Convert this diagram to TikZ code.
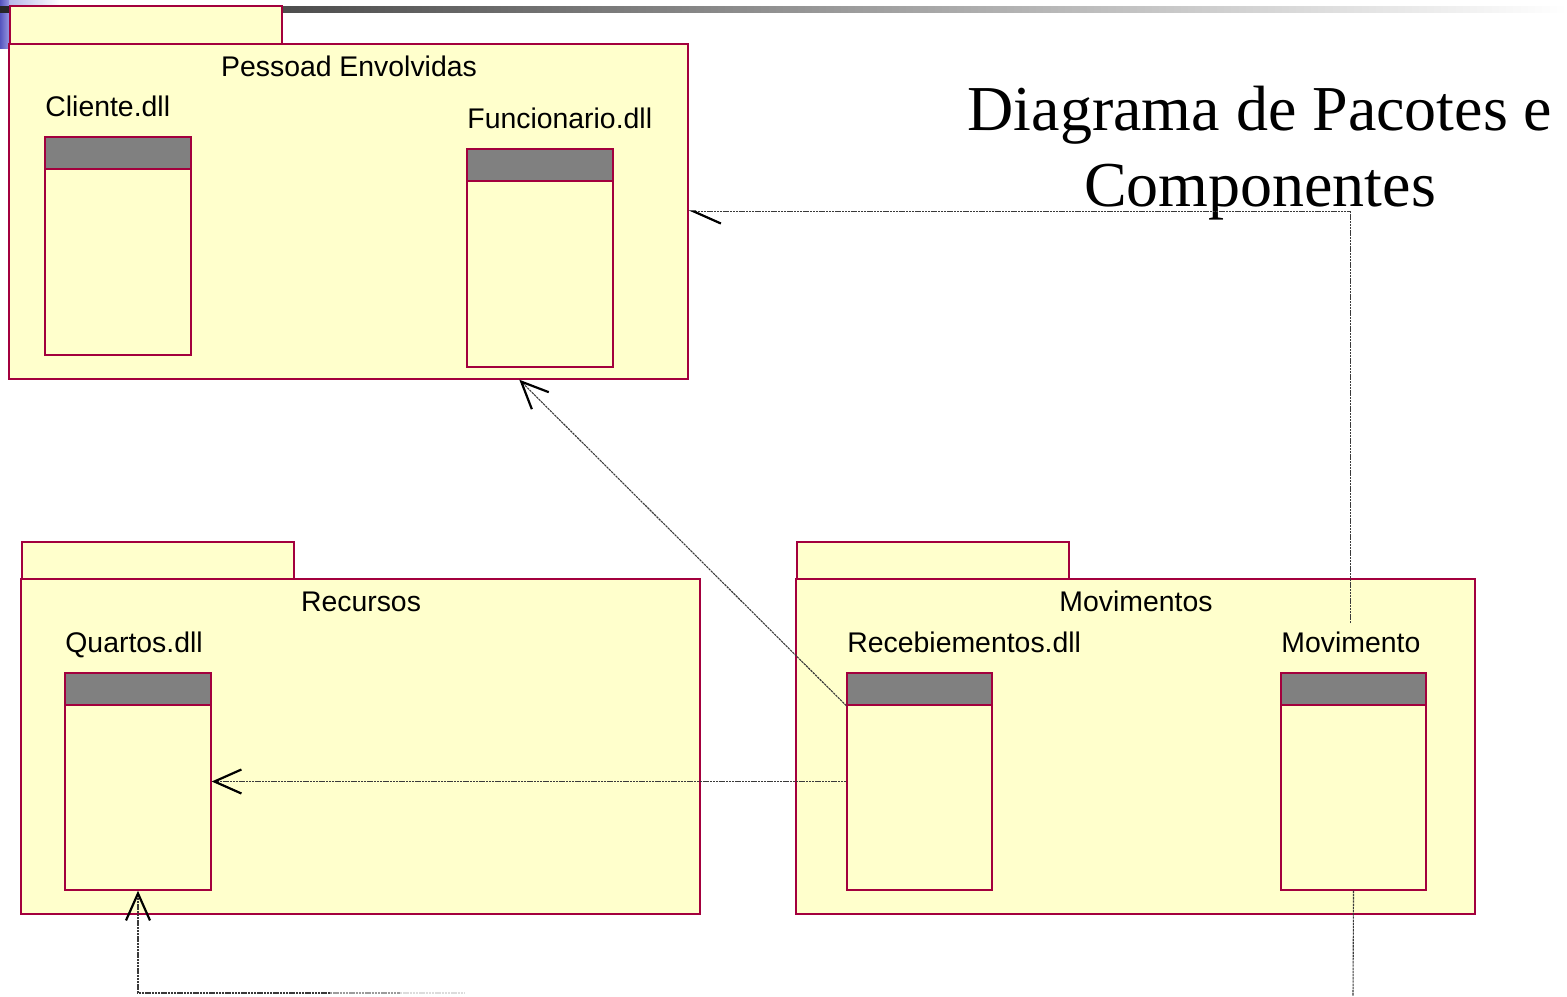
\documentclass[tikz,border=0pt]{standalone}
\usepackage{fontspec}
\setmainfont{Liberation Serif}
\newfontfamily\arialfont{Liberation Sans}
\usetikzlibrary{arrows.meta,fit,calc}
\definecolor{pkgfill}{HTML}{FFFFCC}
\definecolor{pkgline}{HTML}{A3003D}
\definecolor{hdrgray}{HTML}{808080}
\definecolor{conn}{HTML}{3A3A3A}
\definecolor{lav}{RGB}{170,170,230}
\definecolor{blueA}{RGB}{85,85,190}
\definecolor{blueB}{RGB}{150,150,225}
\begin{document}
\begin{tikzpicture}[x=0.5pt,y=-0.5pt,
  pkgbox/.style={draw=pkgline, fill=pkgfill, line width=0.7pt, inner sep=0pt},
  compbox/.style={draw=pkgline, fill=pkgfill, line width=0.7pt, inner sep=0pt},
  comphdr/.style={draw=pkgline, fill=hdrgray, line width=0.7pt, inner sep=0pt},
  lbl/.style={font=\arialfont\fontsize{14.2}{17}\selectfont, inner sep=0pt, anchor=base west},
  ttl/.style={font=\arialfont\fontsize{14.2}{17}\selectfont, inner sep=0pt, anchor=base},
  bigttl/.style={font=\fontsize{32}{38}\selectfont, inner sep=0pt, anchor=base},
  dep/.style={draw=conn, line width=0.55pt, dash pattern=on 1.2pt off 0.4pt},
  opentip/.style={-{Straight Barb[length=13.5pt,width=12pt,line width=1.1pt,color=black]}},
  halftip/.style={-{Straight Barb[harpoon,length=13.5pt,width=12pt,line width=1.1pt,color=black]}}]
\useasboundingbox (0,0) rectangle (1567,996);
% slide decoration
\shade[left color=lav, right color=white] (0,0) rectangle (60,5);
\shade[left color=blueA, right color=blueB] (0,0) rectangle (9,48);
\shade[left color=black!85, right color=white] (0,6) rectangle (1567,12);

% package 1
\node[pkgbox, fit={(10,6) (282,44)}] (p1tab) {};
\node[pkgbox, fit={(9,44) (688,379)}] (p1) {};
\node[ttl] (p1t) at (349,76) {Pessoad Envolvidas};
% package 2
\node[pkgbox, fit={(22,542) (294,579)}] (p2tab) {};
\node[pkgbox, fit={(21,579) (700,914)}] (p2) {};
\node[ttl] (p2t) at (361,611) {Recursos};
% package 3
\node[pkgbox, fit={(797,542) (1069,579)}] (p3tab) {};
\node[pkgbox, fit={(796,579) (1475,914)}] (p3) {};
\node[ttl] (p3t) at (1136,611) {Movimentos};

% components
\node[compbox, fit={(45,137) (191,355)}] (cl) {};
\node[comphdr, fit={(45,137) (191,169)}] (clh) {};
\node[lbl] (cll) at (45,116) {Cliente.dll};

\node[compbox, fit={(467,149) (613,367)}] (fn) {};
\node[comphdr, fit={(467,149) (613,181)}] (fnh) {};
\node[lbl] (fnl) at (467,128) {Funcionario.dll};

\node[compbox, fit={(65,673) (211,890)}] (qd) {};
\node[comphdr, fit={(65,673) (211,705)}] (qdh) {};
\node[lbl] (qdl) at (65,652) {Quartos.dll};

\node[compbox, fit={(847,673) (992,890)}] (rc) {};
\node[comphdr, fit={(847,673) (992,705)}] (rch) {};
\node[lbl] (rcl) at (847,652) {Recebiementos.dll};

\node[compbox, fit={(1281,673) (1426,890)}] (mv) {};
\node[comphdr, fit={(1281,673) (1426,705)}] (mvh) {};
\node[lbl] (mvl) at (1281,652) {Movimento};

% title
\node[bigttl] (title1) at (1260,130) {Diagrama de Pacotes e};
\node[bigttl] (title2) at (1260,206) {Componentes};

% connectors
\draw[dep, halftip] ([yshift=4pt]mvl.north) |- (p1.east);
\draw[dep, opentip] (rch.south west) -- ($(p1.south west)!0.751!(p1.south east)$);
\draw[dep, opentip] (rc.west) -- (qd.east);
\coordinate (bot) at (1353,996);
\draw[dep] (mv.south) -- (bot);
\coordinate (fa) at (330,993);
\coordinate (fb) at (400,993);
\coordinate (fc) at (465,993);
\draw[dep, opentip] (fa) -- (qd.south |- fa) -- (qd.south);
\draw[dep, draw=conn!50] (fa) -- (fb);
\draw[dep, draw=conn!18] (fb) -- (fc);
\end{tikzpicture}
\end{document}
